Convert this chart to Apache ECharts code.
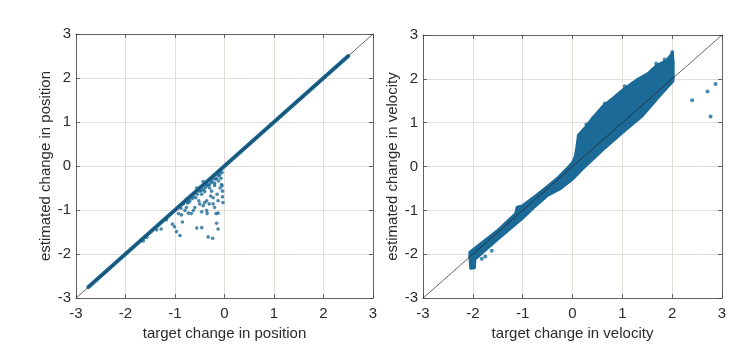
<!DOCTYPE html>
<html>
<head>
<meta charset="utf-8">
<script src="https://cdn.jsdelivr.net/npm/echarts@6/dist/echarts.min.js"></script>
<style>html,body{margin:0;padding:0;background:#fff}</style>
</head>
<body>
<div id="main" style="width:748px;height:346px;"></div>
<script>
// axis ticks (shared by both panels)
var ticks = [-3, -2, -1, 0, 1, 2, 3];

// left panel: points lying on the diagonal run from here to here
var posDiagStart = -2.75, posDiagEnd = 2.5;
// left panel: scattered points below the diagonal
var posScatterX = [-1.28,-1.05,-1.01,-0.97,-0.90,-0.93,-0.87,-0.85,-0.80,-0.77,-0.73,-0.67,-0.63,-0.60,-0.56,-0.46,-0.52,-0.50,-0.46,-0.42,
  -0.40,-0.36,-0.35,-0.33,-0.24,-0.30,-0.26,-0.23,-0.20,-0.17,-0.16,-0.13,-0.13,-0.16,-0.13,-0.09,-0.06,-0.04,-0.03,-0.04,
  -0.09,-0.20,-0.23,-0.36,-0.43,-0.56,-0.67,-0.70,-0.77,-0.83,-1.17,-1.37,-1.57,-1.64,-0.50,-0.43,-0.31,-0.28,-0.15,-0.07,
  -0.46,-0.36,-0.23,-0.13,-0.62,-0.72,-0.38,-0.27,-0.11,-0.05,
  -0.88,-0.75,-0.65,-0.55,-0.47,-0.33,-0.25,-0.18,-0.10,-0.58,-0.40,-0.30,-0.20,-0.12,-0.05];
var posScatterY = [-1.43,-1.32,-1.38,-1.49,-1.58,-1.08,-1.11,-1.27,-1.01,-0.94,-1.07,-1.08,-1.01,-0.94,-1.41,-1.40,-0.79,-0.57,-0.64,-0.53,
  -0.83,-0.79,-1.08,-1.61,-1.64,-0.42,-0.57,-0.72,-0.94,-1.08,-1.30,-1.43,-1.07,-0.28,-0.20,-0.13,-0.42,-0.57,-0.83,-0.70,
  -0.50,-0.39,-0.28,-0.42,-0.35,-0.50,-0.68,-0.79,-0.75,-0.86,-1.22,-1.45,-1.62,-1.70,-0.86,-0.90,-0.86,-0.68,-0.64,-0.28,
  -1.04,-1.01,-0.86,-0.79,-0.70,-0.82,-0.48,-0.36,-0.22,-0.15,
  -0.96,-0.84,-0.74,-0.64,-0.56,-0.44,-0.36,-0.30,-0.20,-0.72,-0.58,-0.50,-0.44,-0.34,-0.45];

// right panel: outline of the dense cloud, traced clockwise (upper edge, then lower edge back)
var velBandX = [-2.07,-1.50,-1.15,-1.12,-1.00,-0.70,-0.50,-0.30,-0.10,0.00,0.05,0.08,0.11,0.25,0.38,0.61,0.81,1.01,1.28,1.51,1.68,1.88,1.97,2.01,2.03,2.03,
  2.02,1.75,1.40,1.00,0.60,0.20,0.00,-0.25,-0.50,-0.75,-1.00,-1.50,-1.75,-1.88,-1.95,-1.96,-2.05,-2.07];
var velBandY = [-1.95,-1.44,-1.07,-0.92,-0.88,-0.62,-0.44,-0.25,-0.02,0.11,0.25,0.46,0.72,0.90,1.09,1.39,1.57,1.76,1.98,2.13,2.31,2.42,2.55,2.60,2.40,2.00,
  1.94,1.60,1.14,0.76,0.36,-0.07,-0.30,-0.52,-0.67,-0.92,-1.19,-1.67,-1.92,-2.05,-2.12,-2.32,-2.33,-2.05];
// right panel: isolated points
var velScatterX = [2.40,2.71,2.87,2.77,0.28,0.51,0.65,1.05,1.21,1.68,1.85,2.00,-1.82,-1.75,-1.62];
var velScatterY = [1.51,1.71,1.88,1.14,0.96,1.19,1.44,1.83,1.90,2.35,2.44,2.61,-2.10,-2.05,-1.92];

var blue = '#1b6a98';
var font = '"Liberation Sans", Arial, sans-serif';
var textColor = '#2b2b2b';

function zip(a, b) { return a.map(function (v, i) { return [v, b[i]]; }); }

function axisPair(idx, name) {
  var common = {
    gridIndex: idx, type: 'value', min: ticks[0], max: ticks[ticks.length - 1], interval: 1,
    axisLine: { onZero: false, lineStyle: { color: '#444', width: 0.8 } },
    axisTick: { inside: true, length: 4, lineStyle: { color: '#444', width: 0.8 } }
  };
  var x = Object.assign({}, common, {
    position: 'bottom', name: name[0], nameLocation: 'middle', nameGap: 24,
    nameTextStyle: { fontFamily: font, fontSize: 15, color: textColor },
    axisLabel: { fontFamily: font, fontSize: 15, color: textColor, margin: 8 },
    splitLine: { show: true, lineStyle: { color: '#e2ddd8', width: 1 } }
  });
  var y = Object.assign({}, common, {
    position: 'left', name: name[1], nameLocation: 'middle', nameGap: 22,
    nameTextStyle: { fontFamily: font, fontSize: 15, color: textColor },
    axisLabel: { fontFamily: font, fontSize: 15, color: textColor, margin: 5 },
    splitLine: { show: true, lineStyle: { color: '#e2ddd8', width: 1 } }
  });
  var x2 = Object.assign({}, common, { position: 'top', axisLabel: { show: false }, splitLine: { show: false } });
  var y2 = Object.assign({}, common, { position: 'right', axisLabel: { show: false }, splitLine: { show: false } });
  return { x: [x, x2], y: [y, y2] };
}

var a0 = axisPair(0, ['target change in position', 'estimated change in position']);
var a1 = axisPair(1, ['target change in velocity', 'estimated change in velocity']);

var myChart = echarts.init(document.getElementById('main'));
var option = {
  animation: false,
  grid: [
    { left: 76, right: 375, top: 34, bottom: 39 },
    { left: 423, right: 26, top: 35, bottom: 39 }
  ],
  xAxis: a0.x.concat(a1.x),
  yAxis: a0.y.concat(a1.y),
  series: [
    // left: thick run of points along the diagonal
    { type: 'line', xAxisIndex: 0, yAxisIndex: 0, symbol: 'none', z: 2,
      lineStyle: { color: blue, width: 4, cap: 'round' },
      data: [[posDiagStart, posDiagStart], [posDiagEnd, posDiagEnd]] },
    { type: 'scatter', xAxisIndex: 0, yAxisIndex: 0, symbolSize: 3.6, z: 3,
      itemStyle: { color: blue }, data: zip(posScatterX, posScatterY) },
    { type: 'line', xAxisIndex: 0, yAxisIndex: 0, symbol: 'none', z: 4,
      lineStyle: { color: '#222', width: 0.7 }, data: [[ticks[0], ticks[0]], [ticks[6], ticks[6]]] },
    // right: dense cloud
    { type: 'custom', xAxisIndex: 2, yAxisIndex: 2, z: 2, data: [[0, 0]],
      renderItem: function (params, api) {
        var pts = velBandX.map(function (v, i) { return api.coord([v, velBandY[i]]); });
        return { type: 'polygon', shape: { points: pts },
          style: { fill: blue, stroke: blue, lineWidth: 2, lineJoin: 'round' } };
      } },
    { type: 'scatter', xAxisIndex: 2, yAxisIndex: 2, symbolSize: 4, z: 3,
      itemStyle: { color: blue }, data: zip(velScatterX, velScatterY) },
    { type: 'line', xAxisIndex: 2, yAxisIndex: 2, symbol: 'none', z: 4,
      lineStyle: { color: '#222', width: 0.7 }, data: [[ticks[0], ticks[0]], [ticks[6], ticks[6]]] }
  ]
};
myChart.setOption(option);
</script>
</body>
</html>
